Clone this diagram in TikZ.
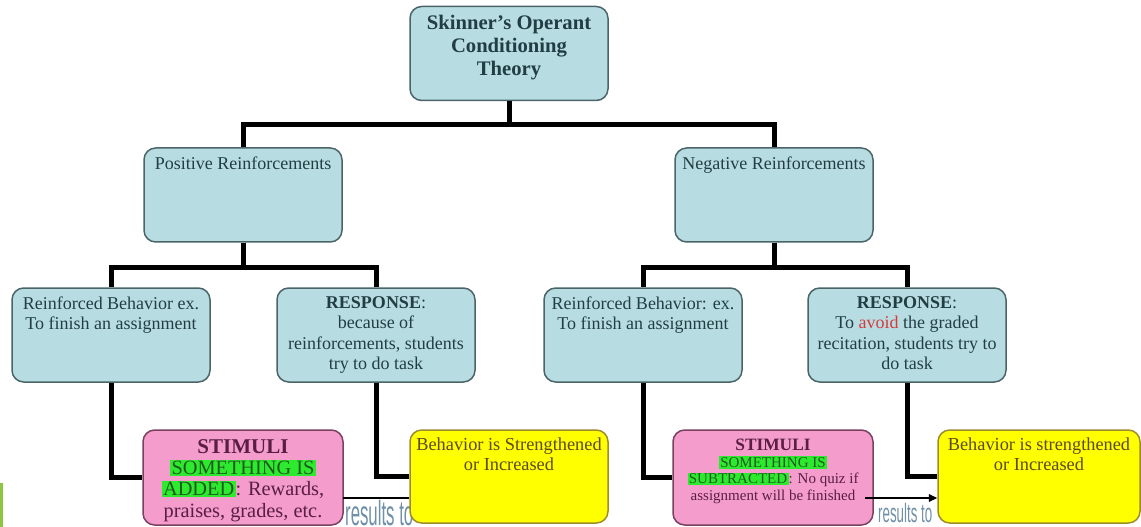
\documentclass[tikz,border=0pt]{standalone}
\usepackage{fontspec}
\setmainfont{Liberation Serif}
\setsansfont{Liberation Sans}
\usepackage{xcolor}
\usetikzlibrary{arrows.meta, positioning, calc}

\definecolor{boxblue}{HTML}{B7DDE3}
\definecolor{boxline}{HTML}{4A6468}
\definecolor{slatetext}{HTML}{223E44}
\definecolor{stimpink}{HTML}{F49CCB}
\definecolor{pinkline}{HTML}{7A4060}
\definecolor{pinktext}{HTML}{5A1E44}
\definecolor{incyellow}{HTML}{FFFF00}
\definecolor{yellowline}{HTML}{9C8C2C}
\definecolor{yellowtext}{HTML}{5C4A1C}
\definecolor{hlgreen}{HTML}{2EEA2E}
\definecolor{hltext}{HTML}{1F5A1F}
\definecolor{avoidred}{HTML}{D83A3A}
\definecolor{resultgrey}{HTML}{7090A8}
\definecolor{leafgreen}{HTML}{8DC63F}

\newcommand{\boxtext}[1]{\begin{minipage}[c][54pt][t]{116pt}\centering\vspace*{4pt}#1\end{minipage}}
\newcommand{\hilite}[1]{{\setlength{\fboxsep}{0.8pt}\colorbox{hlgreen}{\color{hltext}#1}}}

\tikzset{
  box/.style={line width=0.9pt, rounded corners=7pt, inner sep=0pt,
    minimum width=118.8pt, minimum height=56.4pt},
  bluebox/.style={box, draw=boxline, fill=boxblue, text=slatetext,
    font=\fontsize{10.8}{12.2}\selectfont},
  pinkbox/.style={box, draw=pinkline, fill=stimpink, text=pinktext,
    minimum width=120pt, minimum height=57pt},
  yellowbox/.style={box, draw=yellowline, fill=incyellow, text=yellowtext,
    minimum height=55.8pt, font=\fontsize{11}{12}\selectfont},
  link/.style={line width=3pt},
  result/.style={line width=0.7pt},
  resultlabel/.style={text=resultgrey, inner sep=0pt, anchor=base west},
}

\begin{document}
\begin{tikzpicture}[x=0.6pt, y=-0.6pt]
  \useasboundingbox (0,0) rectangle (1141,527);
  \clip (0,0) rectangle (1141,527);
  % --- strip at the left edge ---
  \fill[leafgreen] (0,483) rectangle (3,527);
  % --- "results to" labels, behind the yellow boxes ---
  \node[resultlabel, font=\sffamily\fontsize{21}{21}\selectfont, xscale=0.48]
    (respos) at (345,525) {results to};
  \node[resultlabel, font=\sffamily\fontsize{16}{16}\selectfont, xscale=0.5]
    (resneg) at (878,522) {results to};
  % --- top ---
  \node[bluebox, font=\fontsize{12.4}{13.8}\selectfont\bfseries]
    (theory) at (509,53.5) {\boxtext{Skinner's Operant\\Conditioning\\Theory}};
  \node[bluebox] (pos) at (243,195) {\boxtext{Positive Reinforcements}};
  \node[bluebox] (neg) at (774,195) {\boxtext{Negative Reinforcements}};
  % --- second row ---
  \node[bluebox] (posbeh) at (111,335)
    {\boxtext{Reinforced Behavior ex.\\To finish an assignment}};
  \node[bluebox] (posresp) at (376,335)
    {\boxtext{\textbf{RESPONSE}:\\because of\\reinforcements, students\\try to do task}};
  \node[bluebox] (negbeh) at (643,335)
    {\boxtext{Reinforced Behavior: ex.\\To finish an assignment}};
  \node[bluebox] (negresp) at (907,335)
    {\boxtext{\textbf{RESPONSE}:\\To {\color{avoidred}avoid} the graded\\recitation, students try to\\do task}};
  % --- bottom row ---
  \node[pinkbox, font=\fontsize{12.2}{12.8}\selectfont] (posstim) at (243,477.5)
    {\boxtext{{\fontsize{12.6}{12.8}\selectfont\bfseries STIMULI}\\\hilite{SOMETHING IS}\\\hilite{ADDED}: Rewards,\\praises, grades, etc.}};
  \node[yellowbox] (posinc) at (509,476.5)
    {\boxtext{Behavior is Strengthened\\or Increased}};
  \node[pinkbox, font=\fontsize{9}{10}\selectfont] (negstim) at (773,477.5)
    {\boxtext{{\fontsize{10.4}{10}\selectfont\bfseries STIMULI}\\\hilite{SOMETHING IS}\\\hilite{SUBTRACTED}: No quiz if\\assignment will be finished}};
  \node[yellowbox, minimum width=121.2pt] (neginc) at (1039,476.5)
    {\boxtext{Behavior is strengthened\\or Increased}};
  % --- tree lines ---
  \draw[link] (theory.south) -- ++(0,23) -| (pos.north);
  \draw[link] (theory.south) -- ++(0,23) -| (neg.north);
  \draw[link] (pos.south) -- ++(0,25) -| (posbeh.north);
  \draw[link] (pos.south) -- ++(0,25) -| (posresp.north);
  \draw[link] (neg.south) -- ++(0,25) -| (negbeh.north);
  \draw[link] (neg.south) -- ++(0,25) -| (negresp.north);
  \draw[link] (posbeh.south) |- (posstim.west);
  \draw[link] (posresp.south) |- (posinc.west);
  \draw[link] (negbeh.south) |- (negstim.west);
  \draw[link] (negresp.south) |- (neginc.west);
  % --- results to ---
  \coordinate (posfrom) at (343,498);
  \coordinate (negfrom) at (865,498);
  \draw[result] (posfrom) -- (posinc.west |- posfrom);
  \draw[result, -{Triangle[length=5pt, width=4.5pt]}]
    (negfrom) -- (neginc.west |- negfrom);
\end{tikzpicture}
\end{document}
